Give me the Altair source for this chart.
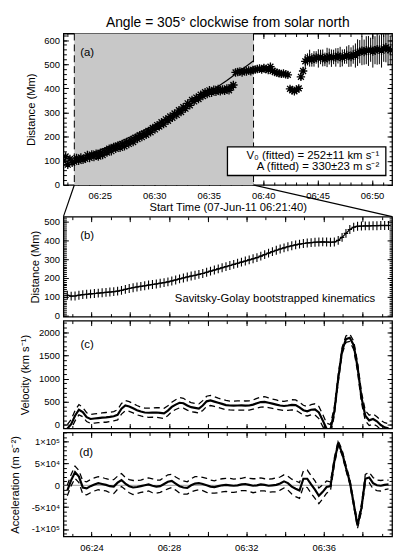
import altair as alt
import pandas as pd

FONT = "Liberation Sans"
W = 332
HA, HB, HC, HD = 153, 101, 109, 105

def hm(h, m, s=0):
    return alt.DateTime(year=2011, month=6, date=7, hours=h, minutes=m, seconds=s)

STAR = "M0,-1L0,1M-1,0L1,0M-0.7,-0.7L0.7,0.7M-0.7,0.7L0.7,-0.7"
PLUS = "M-0.5,0L0.5,0M0,-1L0,1"

# ---------------- panel (a): raw distance-time, 12 s cadence from 06:21:40
A_START = "2011-06-07 06:21:40"
a_dist = [
    100, 118, 84, 108, 92,   96, 112, 100, 114, 104,
    108, 124, 112, 126, 116,  130, 118, 134, 124, 140,
    134, 150, 140, 158, 150,  164, 154, 170, 160, 178,
    170, 186, 178, 196, 190,  206, 198, 214, 208, 224,
    218, 236, 230, 248, 242,  260, 252, 272, 266, 284,
    278, 296, 290, 310, 302,  322, 316, 338, 330, 352,
    346, 362, 356, 374, 368,  384, 376, 392, 382, 394,
    386, 398, 388, 396, 390,  400, 392, 404, 414, 466,
    468, 470, 466, 472, 470,  474, 471, 476, 478, 480,
    482, 478, 485, 480, 476,  490, 472, 468, 465, 462,
    460, 462, 458, 456, 398,  392, 388, 395, 400, 448,
    472, 512, 520, 525, 518,  522, 528, 524, 530, 526,
    520, 528, 532, 525, 530,  528, 535, 530, 526, 532,
    538, 534, 530, 540, 536,  548, 552, 556, 550, 558,
    555, 560, 552, 558, 562,  560, 556, 565, 570, 562,
    558,
]
a_err = [
    12, 14, 12, 10, 12,  9, 8, 10, 8, 9,
    8, 9, 8, 10, 8,  9, 8, 9, 8, 10,
    8, 9, 8, 9, 8,  10, 8, 9, 8, 9,
    8, 9, 10, 8, 9,  9, 8, 9, 10, 8,
    8, 10, 9, 8, 9,  9, 8, 10, 9, 8,
    10, 9, 8, 9, 10,  8, 9, 10, 8, 9,
    9, 10, 8, 9, 8,  10, 8, 9, 10, 9,
    8, 9, 10, 9, 10,  10, 9, 12, 14, 10,
    9, 10, 8, 10, 9,  10, 9, 10, 8, 10,
    12, 10, 14, 11, 10,  12, 10, 9, 10, 9,
    10, 9, 10, 9, 12,  12, 10, 11, 12, 14,
    16, 30, 25, 35, 28,  32, 26, 38, 30, 35,
    28, 40, 33, 36, 30,  38, 32, 42, 35, 30,
    36, 45, 40, 38, 50,  55, 48, 60, 52, 58,
    62, 50, 66, 58, 64,  60, 70, 55, 62, 68,
    58,
]
A_DOMAIN = [hm(6, 21, 40), hm(6, 51, 50)]
A_DOMAIN_STR = ["2011-06-07 06:21:40", "2011-06-07 06:51:50"]
SHADE = ["2011-06-07 06:22:40", "2011-06-07 06:39:07"]
fit_time = ["06:22:40", "06:24:40", "06:26:40", "06:28:40", "06:30:40",
            "06:32:40", "06:34:40", "06:36:40", "06:38:40", "06:39:07"]
fit_dist = [105, 138, 175, 217, 264, 315, 372, 433, 499, 514]

# ---------------- panels (b)-(d): smoothed kinematics, 12 s cadence from 06:22:45
B_START = "2011-06-07 06:22:45"
b_dist = [
    108, 103, 104, 108, 111, 113, 115, 117, 119, 121,
    123, 125, 127, 130, 134, 139, 144, 148, 152, 155,
    158, 162, 165, 168, 172, 175, 179, 184, 189, 195,
    200, 205, 210, 214, 219, 224, 230, 236, 242, 248,
    254, 260, 266, 272, 278, 284, 290, 296, 302, 308,
    316, 324, 332, 340, 347, 354, 360, 366, 371, 376,
    380, 383, 386, 388, 390, 391, 392, 391, 390, 391,
    400, 416, 437, 458, 470, 475, 476, 477, 477, 478,
    478, 479, 479, 479,
]
c_vel = [
    -80, 20, 200, 330, 280, 170, 130, 140, 150, 160,
    165, 175, 190, 220, 350, 420, 400, 360, 320, 290,
    270, 265, 268, 270, 262, 250, 310, 390, 440, 480,
    470, 420, 385, 370, 355, 420, 510, 530, 505, 480,
    455, 430, 420, 418, 420, 422, 418, 420, 440, 470,
    495, 500, 480, 460, 440, 420, 410, 420, 435, 430,
    380, 320, 295, 330, 338, 270, 100, -80, -100, 300,
    1000, 1600, 1850, 1880, 1720, 1250, 600, 200, 100, 130,
    80, 0, -50, -70,
]
c_err = [
    90, 100, 110, 110, 100, 95, 95, 100, 100, 100,
    105, 100, 100, 110, 115, 110, 105, 100, 100, 95,
    95, 100, 100, 105, 110, 110, 105, 100, 105, 110,
    105, 100, 100, 95, 100, 105, 110, 110, 105, 100,
    100, 100, 95, 95, 100, 100, 100, 100, 100, 105,
    110, 110, 105, 100, 100, 95, 100, 105, 110, 110,
    110, 105, 100, 110, 120, 130, 130, 120, 110, 90,
    80, 70, 70, 80, 90, 100, 110, 110, 110, 110,
    100, 100, 100, 100,
]
# acceleration in units of 1e4 m s^-2
d_acc = [
    -1.2, 1.2, 3.0, 2.0, -0.5, -0.7, -0.2, 0.2, 0.5, 0.3,
    0.1, -0.2, -0.3, 0.6, 1.2, 0.4, -0.2, -0.5, -0.4, -0.2,
    0.0, 0.2, -0.1, -0.3, -0.2, 0.3, 0.8, 1.0, 0.4, -0.2,
    -0.5, -0.6, 0.0, 0.4, 0.5, 0.3, 0.0, -0.3, -0.4, -0.2,
    0.0, 0.1, 0.0, -0.1, 0.0, 0.2, 0.3, 0.1, -0.1, 0.0,
    0.2, 0.1, -0.1, 0.0, 0.1, 0.4, 0.9, 0.5, -0.3, -0.8,
    -1.2, 1.5, 1.5, 0.2, -1.0, -2.4, -1.5, -0.4, -0.2, 5.5,
    9.6, 7.5, 4.0, 0.8, -4.2, -9.2, -5.2, 1.5, 1.8, 0.5,
    0.0, -0.1, 0.1, 0.2,
]
d_err = [
    1.2, 1.3, 1.4, 1.4, 1.5, 1.5, 1.5, 1.5, 1.5, 1.5,
    1.4, 1.5, 1.6, 1.5, 1.5, 1.4, 1.5, 1.6, 1.5, 1.4,
    1.5, 1.5, 1.6, 1.5, 1.4, 1.5, 1.6, 1.5, 1.5, 1.6,
    1.5, 1.4, 1.5, 1.6, 1.5, 1.5, 1.6, 1.5, 1.4, 1.5,
    1.5, 1.5, 1.6, 1.5, 1.5, 1.4, 1.5, 1.5, 1.6, 1.5,
    1.5, 1.4, 1.5, 1.5, 1.6, 1.5, 1.5, 1.6, 1.7, 1.8,
    1.8, 1.8, 2.0, 2.0, 2.0, 1.8, 1.6, 1.4, 1.0, 0.8,
    0.6, 0.6, 0.6, 0.6, 0.6, 0.6, 0.8, 1.0, 1.2, 1.3,
    1.2, 1.2, 1.1, 1.0,
]
B_DOMAIN = [hm(6, 22, 33), hm(6, 39, 32)]

# ---------------- frames
ta = pd.date_range(A_START, periods=len(a_dist), freq="12s")
dfa = pd.DataFrame({"t": ta, "d": a_dist,
                    "lo": [d - e for d, e in zip(a_dist, a_err)],
                    "hi": [d + e for d, e in zip(a_dist, a_err)]})
dfit = pd.DataFrame({"t": pd.to_datetime(["2011-06-07 " + s for s in fit_time]), "d": fit_dist})
dshade = pd.DataFrame({"s": [pd.Timestamp(SHADE[0])], "e": [pd.Timestamp(SHADE[1])]})
dedges = pd.DataFrame({"s": pd.to_datetime(SHADE)})
dconn = pd.DataFrame({"x": pd.to_datetime(SHADE), "x2": pd.to_datetime(A_DOMAIN_STR)})

tb = pd.date_range(B_START, periods=len(b_dist), freq="12s")
dfb = pd.DataFrame({
    "t": tb, "d": b_dist, "v": c_vel,
    "vlo": [v - e for v, e in zip(c_vel, c_err)],
    "vhi": [v + e for v, e in zip(c_vel, c_err)],
    "a": [x * 1e4 for x in d_acc],
    "alo": [(x - e) * 1e4 for x, e in zip(d_acc, d_err)],
    "ahi": [(x + e) * 1e4 for x, e in zip(d_acc, d_err)],
})
one = pd.DataFrame({"z": [0]})

# ---------------- axis helpers (inward ticks on all four sides)
AXC = dict(grid=False, domain=False, tickColor="black", tickWidth=1)


def make_axes(df, yf, xs, ys, xmaj, xmin, ymaj, ymin, xlab, xtitle, ytitle, ytp,
              ylabexpr=None, xlabexpr=None, yformat=None):
    base = alt.Chart(df).mark_point(opacity=0)
    bkw = dict(orient="bottom", values=xmaj, offset=-5, tickSize=5, labels=xlab, **AXC)
    if xlab:
        bkw.update(format="%H:%M", labelPadding=6)
        if xlabexpr:
            bkw["labelExpr"] = xlabexpr
    if xtitle:
        bkw.update(title=xtitle, titlePadding=1)
    else:
        bkw["title"] = None
    lkw = dict(orient="left", values=ymaj, offset=-5, tickSize=5, labelPadding=4,
               title=ytitle, titlePadding=ytp, **AXC)
    if ylabexpr:
        lkw["labelExpr"] = ylabexpr
    if yformat:
        lkw["format"] = yformat
    return [
        base.encode(x=alt.X("t:T", scale=xs, axis=alt.Axis(**bkw)),
                    y=alt.Y(yf, type="quantitative", scale=ys, axis=alt.Axis(**lkw))),
        base.encode(x=alt.X("t:T", scale=xs, axis=alt.Axis(orient="top", values=xmaj, offset=-5,
                                                            tickSize=5, labels=False, title=None, **AXC)),
                    y=alt.Y(yf, type="quantitative", scale=ys,
                            axis=alt.Axis(orient="right", values=ymaj, offset=-5, tickSize=5,
                                          labels=False, title=None, **AXC))),
        base.encode(x=alt.X("t:T", scale=xs, axis=alt.Axis(orient="bottom", values=xmin, offset=-3,
                                                            tickSize=3, labels=False, title=None, **AXC)),
                    y=alt.Y(yf, type="quantitative", scale=ys,
                            axis=alt.Axis(orient="left", values=ymin, offset=-3, tickSize=3,
                                          labels=False, title=None, **AXC))),
        base.encode(x=alt.X("t:T", scale=xs, axis=alt.Axis(orient="top", values=xmin, offset=-3,
                                                            tickSize=3, labels=False, title=None, **AXC)),
                    y=alt.Y(yf, type="quantitative", scale=ys,
                            axis=alt.Axis(orient="right", values=ymin, offset=-3, tickSize=3,
                                          labels=False, title=None, **AXC))),
    ]


def label(txt, x, y, size=11.5, align="center"):
    return alt.Chart(one).mark_text(font=FONT, fontSize=size, align=align, baseline="middle",
                                    color="black").encode(x=alt.value(x), y=alt.value(y),
                                                          text=alt.value(txt))


# ---------------- panel (a)
xsa = alt.Scale(domain=A_DOMAIN, nice=False)
ysa = alt.Scale(domain=[0, 627], nice=False, zero=False)
XA = lambda f: alt.X(f, type="temporal", scale=xsa, axis=None)
YA = lambda f: alt.Y(f, type="quantitative", scale=ysa, axis=None)

shade = alt.Chart(dshade).mark_rect(color="#c8c8c8").encode(
    x=XA("s"), x2="e:T", y=alt.value(0), y2=alt.value(HA))
edges = alt.Chart(dedges).mark_rule(color="black", strokeDash=[7, 4], strokeWidth=1).encode(x=XA("s"))
ebars = alt.Chart(dfa).mark_rule(color="black", strokeWidth=1, clip=True).encode(
    x=XA("t"), y=YA("lo"), y2="hi:Q")
fitl = alt.Chart(dfit).mark_line(color="black", strokeWidth=1.2).encode(x=XA("t"), y=YA("d"))
stars = alt.Chart(dfa).mark_point(shape=STAR, size=72, filled=False, color="black",
                                  strokeWidth=1.3, opacity=1, clip=True).encode(x=XA("t"), y=YA("d"))
box = alt.Chart(one).mark_rect(fill="white", stroke="black", strokeWidth=1.3).encode(
    x=alt.value(165.7), x2=alt.value(325.7), y=alt.value(114.4), y2=alt.value(143.4))
t1 = label("V₀ (fitted)  =  252±11  km  s⁻¹", 319, 123.4, 11.5, "right")
t2 = label("A (fitted)  =  330±23  m  s⁻²", 319, 135.0, 11.5, "right")
la = label("(a)", 24, 20)
conn = alt.Chart(dconn).mark_rule(color="black", strokeWidth=1.2).encode(
    x=XA("x"), x2="x2:T", y=alt.value(HA), y2=alt.value(HA + 32))

xa_maj = [hm(6, m) for m in range(25, 51, 5)]
xa_min = [hm(6, m) for m in range(22, 52)]
axa = make_axes(dfa, "d", xsa, ysa, xa_maj, xa_min, list(range(0, 601, 100)),
                list(range(0, 627, 20)), True, "Start Time (07-Jun-11 06:21:40)",
                "Distance (Mm)", 7)

pa = alt.layer(shade, edges, ebars, fitl, stars, box, t1, t2, la, conn, *axa).resolve_axis(
    x="independent", y="independent").properties(
    width=W, height=HA,
    title=alt.TitleParams("Angle = 305° clockwise from solar north", fontSize=14,
                          fontWeight="normal", font=FONT, offset=3, color="black"))

spacer = alt.Chart(one).mark_point(opacity=0).encode(
    x=alt.X("z:Q", axis=None), y=alt.Y("z:Q", axis=None)).properties(
    width=W, height=24, view=alt.ViewBackground(strokeOpacity=0))

# ---------------- bottom panels
xsb = alt.Scale(domain=B_DOMAIN, nice=False)
XB = lambda f: alt.X(f, type="temporal", scale=xsb, axis=None)
xb_maj = [hm(6, m) for m in range(24, 39, 2)]
xb_min = [hm(6, m) for m in range(23, 40)]
XLAB = "minutes(datum.value) % 4 == 0 ? timeFormat(datum.value, '%H:%M') : ''"

ysb = alt.Scale(domain=[-6, 526], nice=False, zero=False)
bline = alt.Chart(dfb).mark_line(color="black", strokeWidth=1.3).encode(
    x=XB("t"), y=alt.Y("d:Q", scale=ysb, axis=None))
bpts = alt.Chart(dfb).mark_point(shape=PLUS, size=81, filled=False, color="black",
                                 strokeWidth=1.1, opacity=1).encode(
    x=XB("t"), y=alt.Y("d:Q", scale=ysb, axis=None))
bnote = label("Savitsky-Golay bootstrapped kinematics", 315, 83.4, 11.4, "right")
lb = label("(b)", 24, 19.2)
axb = make_axes(dfb, "d", xsb, ysb, xb_maj, xb_min, list(range(0, 501, 100)),
                list(range(0, 521, 10)), False, None, "Distance (Mm)", 3)
pb = alt.layer(bline, bpts, bnote, lb, *axb).resolve_axis(
    x="independent", y="independent").properties(width=W, height=HB)

ysc = alt.Scale(domain=[-75, 2250], nice=False, zero=False)
YC = lambda f: alt.Y(f, type="quantitative", scale=ysc, axis=None)
cdash = [alt.Chart(dfb).mark_line(color="black", strokeWidth=1.3, strokeDash=[6, 4], clip=True).encode(
    x=XB("t"), y=YC(f)) for f in ("vlo", "vhi")]
cmain = alt.Chart(dfb).mark_line(color="black", strokeWidth=2.2, clip=True).encode(x=XB("t"), y=YC("v"))
lc = label("(c)", 24, 24.7)
axc = make_axes(dfb, "v", xsb, ysc, xb_maj, xb_min, [0, 500, 1000, 1500, 2000],
                list(range(0, 2250, 100)), False, None, "Velocity (km s⁻¹)", 8, yformat="d")
pc = alt.layer(*cdash, cmain, lc, *axc).resolve_axis(
    x="independent", y="independent").properties(width=W, height=HC)

ysd = alt.Scale(domain=[-117000, 121000], nice=False, zero=False)
YD = lambda f: alt.Y(f, type="quantitative", scale=ysd, axis=None)
zero = alt.Chart(one).mark_rule(color="#808080", strokeWidth=0.8).encode(y=YD("z"))
ddash = [alt.Chart(dfb).mark_line(color="black", strokeWidth=1.3, strokeDash=[6, 4], clip=True).encode(
    x=XB("t"), y=YD(f)) for f in ("alo", "ahi")]
dmain = alt.Chart(dfb).mark_line(color="black", strokeWidth=2.2, clip=True).encode(x=XB("t"), y=YD("a"))
ld = label("(d)", 23, 20.7)
YLAB = ("datum.value == 0 ? '0' : datum.value == 100000 ? '1×10⁵' : datum.value == 50000 ? '5×10⁴'"
        " : datum.value == -50000 ? '-5×10⁴' : '-1×10⁵'")
axd = make_axes(dfb, "a", xsb, ysd, xb_maj, xb_min, [-100000, -50000, 0, 50000, 100000],
                list(range(-110000, 120001, 10000)), True, None, "Acceleration (m s⁻²)", 11,
                ylabexpr=YLAB, xlabexpr=XLAB)
pdd = alt.layer(zero, *ddash, dmain, ld, *axd).resolve_axis(
    x="independent", y="independent").properties(width=W, height=HD)

chart = alt.vconcat(pa, spacer, pb, pc, pdd, spacing=4, bounds="flush").properties(
    padding={"left": 0, "top": 4, "right": 5, "bottom": 0}
).configure_view(stroke="black", strokeWidth=1.3).configure_axis(
    labelFont=FONT, titleFont=FONT, labelFontSize=9.5, titleFontSize=11.3,
    titleFontWeight="normal", labelColor="black", titleColor="black")

chart.save("out.html", embed_options={"renderer": "svg", "actions": False})
